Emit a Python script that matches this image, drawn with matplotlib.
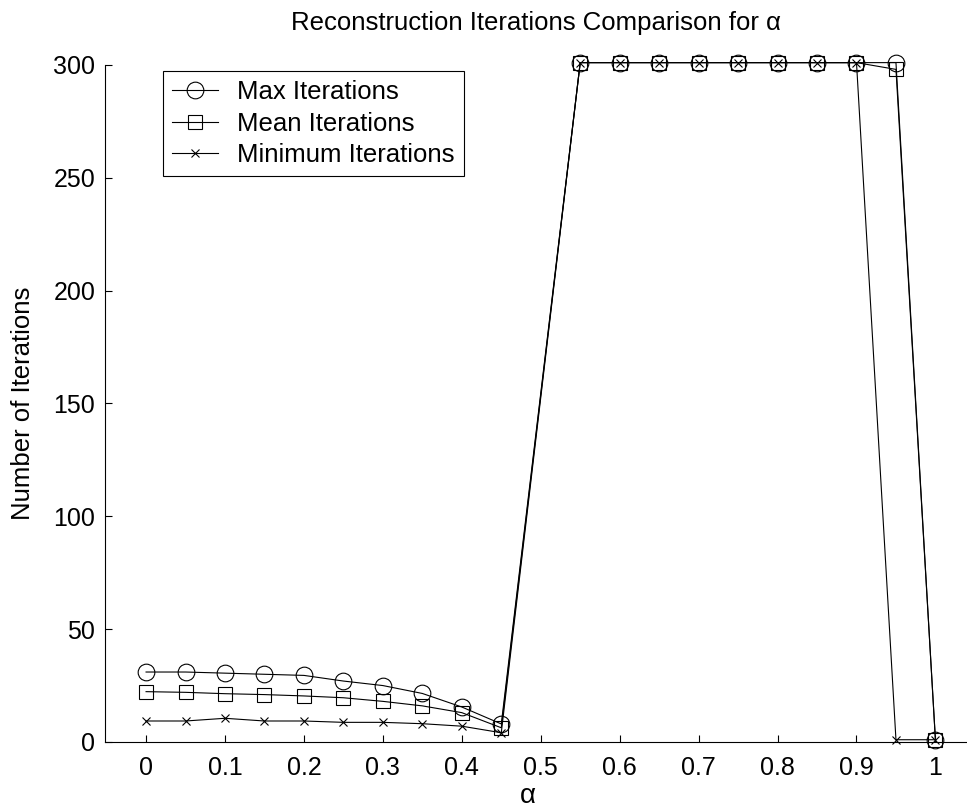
import matplotlib
matplotlib.use('Agg')
import matplotlib.pyplot as plt

plt.rcParams['font.family'] = ['Liberation Sans', 'DejaVu Sans']

alpha = [0, 0.05, 0.1, 0.15, 0.2, 0.25, 0.3, 0.35, 0.4, 0.45,
         0.55, 0.6, 0.65, 0.7, 0.75, 0.8, 0.85, 0.9, 0.95, 1.0]
max_iter = [31, 31, 30.5, 30, 29.5, 27, 25, 21.5, 15.5, 8,
            301, 301, 301, 301, 301, 301, 301, 301, 301, 1]
mean_iter = [22.3, 22, 21.4, 21, 20.4, 19.6, 18, 16, 13, 6.3,
             301, 301, 301, 301, 301, 301, 301, 301, 298, 1]
min_iter = [9.3, 9.3, 10.5, 9.3, 9.3, 8.7, 8.7, 8.1, 7, 4.1,
            301, 301, 301, 301, 301, 301, 301, 301, 1, 1]
xticks = [0, 0.1, 0.2, 0.3, 0.4, 0.5, 0.6, 0.7, 0.8, 0.9, 1]
xticklabels = ['0', '0.1', '0.2', '0.3', '0.4', '0.5', '0.6', '0.7', '0.8', '0.9', '1']
yticks = [0, 50, 100, 150, 200, 250, 300]

fig = plt.figure(figsize=(9.67, 8.08), dpi=100)
ax = fig.add_axes([0.1086, 0.0817, 0.8914, 0.838])

ax.plot(alpha, max_iter, 'k-', marker='o', mfc='none', ms=12, mew=0.8, lw=0.8,
        label='Max Iterations', clip_on=False)
ax.plot(alpha, mean_iter, 'k-', marker='s', mfc='none', ms=10, mew=0.8, lw=0.8,
        label='Mean Iterations', clip_on=False)
ax.plot(alpha, min_iter, 'k-', marker='x', ms=6, mew=0.8, lw=0.8,
        label='Minimum Iterations', clip_on=False)

ax.set_xlim(-0.052, 1.04)
ax.set_ylim(0, 300)
ax.set_xticks(xticks)
ax.set_xticklabels(xticklabels)
ax.set_yticks(yticks)
ax.tick_params(direction='in', length=5, width=0.8, labelsize=18)
ax.tick_params(axis='x', pad=10)
ax.tick_params(axis='y', pad=7)

ax.spines['top'].set_visible(False)
ax.spines['right'].set_visible(False)
ax.spines['left'].set_linewidth(0.8)
ax.spines['bottom'].set_linewidth(0.8)

fig.text(0.554, 1 - 23 / 808, 'Reconstruction Iterations Comparison for \u03b1',
         fontsize=18.5, ha='center', va='center')
ax.set_xlabel('\u03b1', fontsize=20, va='center')
ax.xaxis.set_label_coords(0.49, -0.08)
ax.set_ylabel('Number of Iterations', fontsize=18.5, va='center')
ax.yaxis.set_label_coords(-0.095, 0.5)

leg = ax.legend(loc='upper left', bbox_to_anchor=(0.067, 0.991), fontsize=18.5,
                frameon=True, fancybox=False, edgecolor='black', framealpha=1,
                handlelength=1.8, handletextpad=0.75, labelspacing=0.3,
                borderpad=0.35, borderaxespad=0)
leg.get_frame().set_linewidth(0.8)

fig.savefig('out.png', dpi=100)
